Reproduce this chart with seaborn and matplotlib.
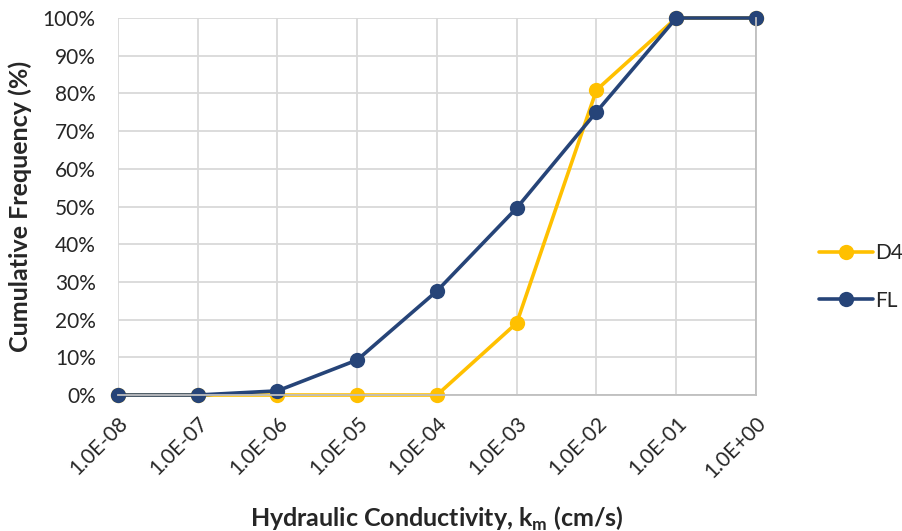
import matplotlib
matplotlib.use("Agg")
import matplotlib.pyplot as plt
import numpy as np
import pandas as pd
import seaborn as sns

# Hydraulic conductivity classes (cm/s) and cumulative frequencies (%)
k_values = [1e-8, 1e-7, 1e-6, 1e-5, 1e-4, 1e-3, 1e-2, 1e-1, 1e0]
d4_freq = [0, 0, 0, 0, 0, 19.1, 80.9, 100, 100]
fl_freq = [0, 0, 1.1, 9.3, 27.6, 49.6, 75.1, 100, 100]
tick_labels = ["1.0E-08", "1.0E-07", "1.0E-06", "1.0E-05", "1.0E-04",
               "1.0E-03", "1.0E-02", "1.0E-01", "1.0E+00"]
series_names = ["D4", "FL"]
series_colors = ["#FFC000", "#264478"]

df = pd.DataFrame({
    "k": k_values * 2,
    "freq": d4_freq + fl_freq,
    "series": [series_names[0]] * len(k_values) + [series_names[1]] * len(k_values),
})

sns.set_style("white")
plt.rcParams["font.family"] = ["Lato", "DejaVu Sans"]

fig = plt.figure(figsize=(9.02, 5.31), dpi=100)
ax = fig.add_axes([0.1308, 0.2561, 0.7073, 0.7100])

sns.lineplot(data=df, x="k", y="freq", hue="series", hue_order=series_names,
             palette=series_colors, marker="o", markersize=11, linewidth=2.6,
             markeredgewidth=0, ax=ax, legend=True)

ax.set_xscale("log")
ax.set_xlim(1e-8, 1e0)
ax.set_ylim(0, 100)
ax.set_xticks(k_values)
ax.set_xticklabels(tick_labels, rotation=45, ha="right", rotation_mode="anchor",
                   fontsize=15)
ax.xaxis.set_minor_locator(matplotlib.ticker.NullLocator())
ax.set_yticks(np.arange(0, 101, 10))
ax.set_yticklabels([f"{v}%" for v in range(0, 101, 10)], fontsize=15)
ax.tick_params(axis="y", length=0, pad=16)
ax.tick_params(axis="x", length=0, pad=13)

ax.grid(True, color="#D9D9D9", linewidth=1.3)
ax.set_axisbelow(True)
for side in ["top", "left"]:
    ax.spines[side].set_visible(False)
for side in ["bottom", "right"]:
    ax.spines[side].set_color("#BFBFBF")
    ax.spines[side].set_linewidth(1.3)

ax.set_xlabel("Hydraulic Conductivity, k$_\\mathregular{m}$ (cm/s)", fontsize=18,
              fontweight="bold")
ax.set_ylabel("Cumulative Frequency (%)", fontsize=18, fontweight="bold")
ax.xaxis.set_label_coords(0.5, -0.29)
ax.yaxis.set_label_coords(-0.135, 0.5)

leg = ax.legend(loc="center left", bbox_to_anchor=(1.069, 0.313), frameon=False,
                fontsize=15, handlelength=2.6, labelspacing=1.3, handletextpad=0.1)

for line in ax.get_lines():
    line.set_clip_on(False)

fig.savefig("out.png", dpi=100)
